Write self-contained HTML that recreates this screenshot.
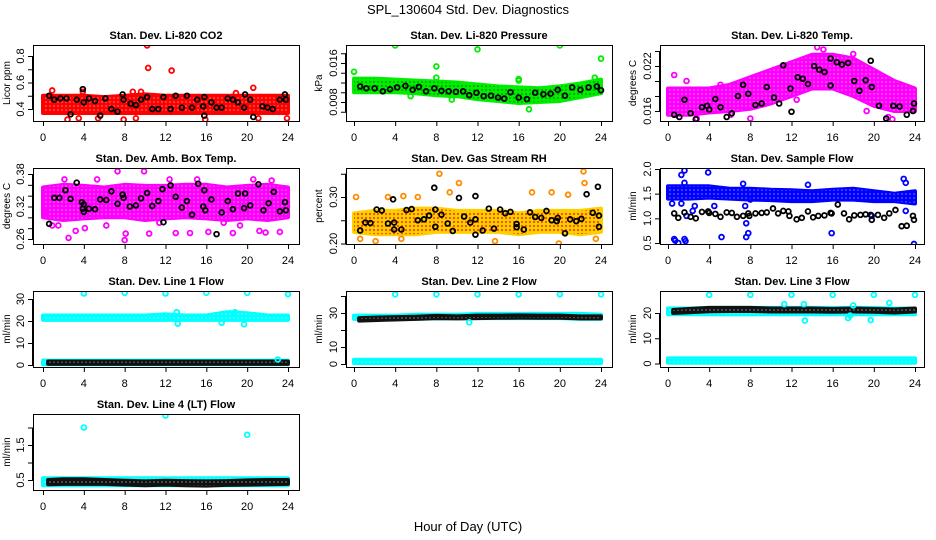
<!DOCTYPE html>
<html><head><meta charset="utf-8">
<style>
html,body{margin:0;padding:0;background:#fff;}
svg{display:block;font-family:"Liberation Sans",sans-serif;}
</style></head>
<body>
<svg id="chart" width="936" height="540" viewBox="0 0 936 540" xmlns="http://www.w3.org/2000/svg">
<defs>
<pattern id="texW" width="4" height="4" patternUnits="userSpaceOnUse"><circle cx="2" cy="2" r="1" fill="#fff" fill-opacity="0.3"/></pattern>
<pattern id="texK" width="4" height="4" patternUnits="userSpaceOnUse"><circle cx="2" cy="2" r="1" fill="#000" fill-opacity="0.35"/></pattern>
<pattern id="texR" width="4" height="4" patternUnits="userSpaceOnUse"><circle cx="2" cy="2" r="1.1" fill="#ff2000" fill-opacity="0.8"/></pattern>
</defs>
<text x="468" y="14" text-anchor="middle" font-size="13">SPL_130604  Std. Dev. Diagnostics</text>
<text x="468" y="531" text-anchor="middle" font-size="13">Hour of Day (UTC)</text>
<g id="panels"></g>
</svg>
<script>
// ---------- data ----------
const hours = [0,2,4,6,8,10,12,14,16,18,20,22,24];
const xTicks = [0,4,8,12,16,20,24];

// P1 CO2
const co2Lo = [0.37,0.37,0.37,0.37,0.37,0.37,0.37,0.37,0.37,0.37,0.37,0.37,0.37];
const co2Hi = [0.50,0.50,0.50,0.49,0.50,0.51,0.50,0.50,0.50,0.50,0.50,0.50,0.50];
const co2OutHour = [10.2,10.3,12.6,20.6,0.9,3.9,8.8,9.6,18.9,2.4,3.5,7.9,15.9,23.9,21.1,5.4,9.1];
const co2OutVal = [0.88,0.71,0.69,0.56,0.54,0.53,0.53,0.53,0.52,0.32,0.33,0.32,0.32,0.33,0.33,0.33,0.33];
const co2BlkHour = [0.6,1.1,1.7,2.3,2.7,3.3,3.9,4.0,4.5,5.1,5.6,6.1,6.7,7.3,7.9,7.8,8.6,9.1,9.6,10.2,10.7,11.3,11.8,12.5,13.0,13.6,14.1,14.6,15.1,15.7,15.8,15.8,16.5,17.0,17.5,18.1,18.6,19.1,19.7,19.8,20.3,20.6,21.5,22.0,22.5,23.2,23.7,23.8];
const co2BlkVal = [0.50,0.47,0.48,0.48,0.36,0.47,0.55,0.45,0.48,0.46,0.35,0.48,0.40,0.38,0.47,0.51,0.44,0.43,0.47,0.49,0.40,0.40,0.49,0.40,0.50,0.41,0.50,0.41,0.47,0.42,0.49,0.35,0.45,0.41,0.41,0.48,0.47,0.45,0.41,0.51,0.47,0.34,0.42,0.41,0.40,0.47,0.51,0.47];

// P2 Pressure
const prsLo = [0.0100,0.0100,0.0100,0.0098,0.0094,0.0092,0.0086,0.0082,0.0078,0.0080,0.0082,0.0090,0.0098];
const prsHi = [0.0128,0.0128,0.0126,0.0124,0.0122,0.0120,0.0116,0.0112,0.0110,0.0108,0.0112,0.0118,0.0126];
const prsOutHour = [0,4,8,12,20,24,8,16,16,17,23.4,5.5,9.5];
const prsOutVal = [0.0142,0.0196,0.0153,0.0188,0.0196,0.0169,0.0130,0.0127,0.0124,0.0065,0.0130,0.0092,0.0085];
const prsBlkHour = [0.6,1.2,2,2.8,3.5,4.2,5,5.7,6.3,7,7.8,8.5,9.2,9.9,10.6,11.2,11.9,12.6,13.3,14,14.6,15.2,16,16.8,17.6,18.4,19.1,19.8,20.5,21.2,22,22.8,23.6,24];
const prsBlkVal = [0.0112,0.0108,0.0108,0.0102,0.0106,0.0110,0.0113,0.0105,0.0111,0.0102,0.0108,0.0103,0.0102,0.0101,0.0102,0.0094,0.0099,0.0092,0.0093,0.0089,0.0087,0.0100,0.0089,0.0086,0.0099,0.0096,0.0097,0.0105,0.0093,0.0110,0.0105,0.0110,0.0112,0.0104];

// P3 Li-820 Temp
const tmpLo = [0.0155,0.0155,0.0158,0.0160,0.0163,0.0170,0.0180,0.0190,0.0190,0.0180,0.0167,0.0160,0.0160];
const tmpHi = [0.0190,0.0190,0.0190,0.0195,0.0205,0.0215,0.0225,0.0235,0.0235,0.0230,0.0215,0.0200,0.0190];
const tmpOutHour = [0.6,14.5,15.1,18,21.4,21.8,2.8,8,19.3,12.5,6.1,1.8,5.1];
const tmpOutVal = [0.0208,0.0245,0.0242,0.0236,0.0152,0.0149,0.0150,0.0150,0.0160,0.0175,0.0155,0.0200,0.0195];
const tmpBlkHour = [0.6,1.1,1.6,2.2,2.7,3.3,3.8,4,4.6,5.1,5.7,6.2,6.8,7.3,7.8,8.5,9.1,9.6,10.3,10.8,11.2,11.9,12,12.6,13.1,13.6,14.2,14.7,15.2,15.8,15.8,16.4,16.9,17.5,18.1,18.6,19.2,19.7,19.8,20.5,21.2,21.9,22.5,23.2,23.8,23.9];
const tmpBlkVal = [0.0155,0.0152,0.0175,0.0157,0.0149,0.0165,0.0167,0.0162,0.0176,0.0165,0.0152,0.0157,0.0180,0.0195,0.0183,0.0168,0.0170,0.0192,0.0178,0.0170,0.0221,0.0190,0.0159,0.0205,0.0203,0.0196,0.0220,0.0215,0.0212,0.0230,0.0194,0.0225,0.0222,0.0224,0.0200,0.0187,0.0201,0.0227,0.0192,0.0167,0.0150,0.0167,0.0166,0.0155,0.0160,0.0170];

// P4 Amb Box Temp
const ambLo = [0.300,0.295,0.298,0.300,0.300,0.295,0.298,0.300,0.298,0.295,0.298,0.295,0.300];
const ambHi = [0.355,0.360,0.358,0.355,0.360,0.358,0.358,0.360,0.360,0.355,0.358,0.360,0.355];
const ambOutHour = [2.5,7.3,8,9.9,0.9,3.2,8.1,11.4,13,14.4,16.2,18.6,21.2,21.8,23.2,6.2,10.4,5.3,12.4,15.1,20.6,22.4,2.1,1.5,4.1,19.3,17.7,0.2,23.9];
const ambOutVal = [0.262,0.385,0.258,0.385,0.285,0.275,0.270,0.290,0.271,0.271,0.273,0.271,0.275,0.272,0.273,0.285,0.270,0.370,0.370,0.370,0.370,0.368,0.370,0.285,0.280,0.285,0.290,0.310,0.320];
const ambBlkHour = [0.6,1.1,1.6,2.2,2.7,3.3,3.8,4,3.9,4,4.5,5.1,5.6,6.2,6.7,7.3,7.8,7.9,8.5,9.1,9.6,10.2,10.7,11.3,11.7,11.8,12.5,13,13.6,14.1,14.6,15.2,15.7,15.8,15.9,16.5,17,17.5,18.1,18.6,19.1,19.7,19.8,20.3,21.1,21.6,22.1,22.6,23.2,23.7,23.8];
const ambBlkVal = [0.288,0.336,0.336,0.350,0.334,0.364,0.328,0.324,0.316,0.310,0.316,0.315,0.333,0.332,0.348,0.325,0.342,0.336,0.320,0.322,0.335,0.345,0.321,0.330,0.352,0.291,0.359,0.338,0.318,0.330,0.305,0.362,0.320,0.350,0.313,0.333,0.269,0.309,0.330,0.315,0.344,0.317,0.344,0.322,0.361,0.313,0.326,0.347,0.311,0.328,0.313];

// P5 Gas Stream RH
const rhLo = [0.225,0.220,0.220,0.220,0.225,0.225,0.225,0.225,0.220,0.225,0.225,0.220,0.225];
const rhHi = [0.265,0.270,0.270,0.275,0.275,0.270,0.270,0.270,0.265,0.270,0.270,0.270,0.275];
const rhOutHour = [0.2,8.3,10.2,22.3,22.4,19.2,0.6,2.1,4.6,13.7,19.9,17.3,3.3,6.2,23.5,9.3,20.8,4.8];
const rhOutVal = [0.300,0.350,0.330,0.355,0.330,0.310,0.210,0.205,0.210,0.205,0.200,0.310,0.300,0.300,0.210,0.310,0.305,0.302];
const rhBlkHour = [0.6,1.1,1.6,2.2,2.7,3.3,3.8,3.9,3.9,4.6,5.1,5.6,6.2,6.8,7.3,7.8,7.9,7.9,8.5,9.1,9.6,10.2,10.7,11.3,11.8,11.8,11.8,12.5,13.1,13.6,14.2,14.7,15.2,15.8,15.8,16.5,17.1,17.6,18.2,18.7,19.2,19.7,19.8,20.5,21.0,21.6,22.1,22.6,23.2,23.7,23.8,23.8];
const rhBlkVal = [0.228,0.245,0.244,0.273,0.271,0.243,0.295,0.245,0.230,0.230,0.272,0.274,0.250,0.252,0.260,0.320,0.273,0.236,0.262,0.243,0.227,0.298,0.258,0.245,0.302,0.252,0.219,0.228,0.275,0.232,0.273,0.265,0.268,0.242,0.235,0.230,0.267,0.257,0.255,0.270,0.250,0.248,0.255,0.222,0.252,0.248,0.253,0.306,0.266,0.322,0.260,0.236];

// P6 Sample Flow
const sfLo = [1.40,1.40,1.42,1.40,1.38,1.37,1.35,1.35,1.38,1.38,1.35,1.35,1.30];
const sfHi = [1.65,1.65,1.65,1.60,1.60,1.58,1.57,1.55,1.58,1.60,1.55,1.50,1.55];
const sfOutHour = [0.6,0.7,1,1.6,1.7,1.3,1.6,3.9,5.2,7.6,7.8,7.6,15.9,23.9,22.9,23.1,23.1,1.8,2.4,2.6,7.5,19.8,23.5,0.4,1.3,1.6,4.5,13.6,8.0,7.3];
const sfOutVal = [0.58,0.55,0.50,0.58,0.54,1.88,1.97,1.93,0.62,0.62,0.70,0.90,0.70,0.48,1.80,1.72,1.15,1.05,1.15,1.25,1.25,1.05,1.40,1.30,1.30,1.72,1.25,1.68,1.38,1.70];
const sfBlkHour = [0.6,1.0,1.6,2.2,2.7,3.3,3.9,4.0,4.6,5.1,5.7,6.2,6.7,7.3,7.8,7.9,8.5,9.1,9.6,10.2,10.7,11.2,11.7,11.8,12.5,13.0,13.6,14.1,14.6,15.2,15.8,15.9,16.5,17.1,17.6,18.1,18.7,19.2,19.7,19.8,20.4,21.0,21.5,22.1,22.7,23.2,23.8,23.9];
const sfBlkVal = [1.10,1.01,1.12,1.03,1.00,1.13,1.14,1.11,1.09,1.03,1.12,1.11,1.03,1.05,1.10,1.05,1.10,1.11,1.12,1.20,1.10,1.15,1.14,1.05,0.98,1.01,1.14,1.02,1.05,1.06,1.11,1.10,1.28,1.10,0.98,1.06,1.07,1.08,1.07,0.97,1.07,1.01,1.10,1.17,0.84,0.85,1.05,0.97];

// P7 Line 1 Flow
const l1HiLo = [20.5,20.5,20.5,20.5,20.5,20.5,20.5,20.5,20.5,20.5,20.5,20.5,20.5];
const l1HiHi = [22.5,22.5,22.5,22.5,22.5,22.5,23.0,22.5,22.5,24.0,23.5,22.5,22.5];
const l1LowLo = [0.3,0.3,0.3,0.3,0.3,0.3,0.3,0.3,0.3,0.3,0.3,0.3,0.3];
const l1LowHi = [2.0,2.0,2.0,2.0,2.0,2.0,2.0,2.0,2.0,2.0,2.0,2.0,2.0];
const l1BlkHour = [0.5,2,4,6,8,10,12,14,16,18,20,22,24];
const l1BlkLo = [0.5,0.5,0.5,0.5,0.5,0.5,0.5,0.5,0.5,0.5,0.5,0.5,0.5];
const l1BlkHi = [1.6,1.6,1.6,1.6,1.6,1.6,1.6,1.6,1.6,1.6,1.6,1.6,1.6];
const l1OutHour = [4,8,12,16,20,24,13.2,17.5,19.7,13.1,18.8,18.3,23];
const l1OutVal = [32.5,32.8,32.5,32.8,32.8,32.2,18.8,19.2,18.5,24,24,23.5,2.5];

// P8 Line 2 Flow
const l2HiLo = [26.5,26.5,26.5,26.5,26.8,26.8,27.0,27.0,27.0,27.0,27.0,26.5,26.5];
const l2HiHi = [28.5,28.5,28.5,29.0,29.0,29.0,29.5,29.5,29.5,29.5,29.5,29.5,29.0];
const l2LowLo = [0.5,0.5,0.5,0.5,0.5,0.5,0.5,0.5,0.5,0.5,0.5,0.5,0.5];
const l2LowHi = [2.5,2.5,2.5,2.5,2.5,2.5,2.5,2.5,2.5,2.5,2.5,2.5,2.5];
const l2BlkHour = [0.5,2,4,6,8,10,12,14,16,18,20,22,24];
const l2BlkLo = [25.5,25.8,26.2,26.5,27.0,26.8,27.0,27.2,27.3,27.2,27.2,26.8,26.8];
const l2BlkHi = [27.0,27.3,27.6,27.8,28.3,28.0,28.5,28.5,28.6,28.5,28.5,28.0,28.0];
const l2OutHour = [4,8,12,16,20,24,11.2];
const l2OutVal = [41,41,41,41,41,41,24.5];

// P9 Line 3 Flow
const l3HiLo = [19.5,19.5,19.5,19.5,19.5,19.5,19.5,19.5,19.5,19.5,19.5,19.5,19.5];
const l3HiHi = [21.8,21.8,22.0,22.0,22.0,22.0,22.0,22.0,22.0,22.0,22.0,21.8,21.8];
const l3LowLo = [0.3,0.3,0.3,0.3,0.3,0.3,0.3,0.3,0.3,0.3,0.3,0.3,0.3];
const l3LowHi = [2.0,2.0,2.0,2.0,2.0,2.0,2.0,2.0,2.0,2.0,2.0,2.0,2.0];
const l3BlkHour = [0.5,2,4,6,8,10,12,14,16,18,20,22,24];
const l3BlkLo = [20.0,20.3,20.7,20.8,20.8,20.6,20.6,20.6,20.5,20.6,20.5,20.2,20.6];
const l3BlkHi = [21.2,21.6,22.0,22.0,22.0,21.8,21.8,21.8,21.6,21.8,21.6,21.4,21.8];
const l3OutHour = [4,8,12,16,20,24,13.2,13.3,17.5,17.7,18,19.7,21.5,11.3];
const l3OutVal = [27.2,27.2,27.2,27.2,27.2,27.2,23.5,17,18,19,23,17.2,24,23.5];

// P10 Line 4 (LT) Flow
const l4Lo = [0.35,0.35,0.35,0.35,0.35,0.35,0.35,0.35,0.35,0.35,0.35,0.35,0.35];
const l4Hi = [0.55,0.55,0.55,0.55,0.55,0.55,0.55,0.55,0.55,0.55,0.55,0.55,0.55];
const l4BlkHour = [0.5,2,4,6,8,10,12,14,16,18,20,22,24];
const l4BlkLo = [0.38,0.39,0.39,0.39,0.37,0.35,0.37,0.35,0.34,0.36,0.37,0.38,0.39];
const l4BlkHi = [0.50,0.52,0.52,0.50,0.48,0.46,0.48,0.47,0.46,0.47,0.49,0.50,0.50];
const l4OutHour = [4,12,20];
const l4OutVal = [2.0,2.34,1.79];

// ---------- layout ----------
const NS = "http://www.w3.org/2000/svg";
const cols = [{bl:33,br:299,x0:43,x24:288,yl:10},{bl:346,br:612,x0:354,x24:601,yl:322},{bl:660,br:924,x0:668,x24:915,yl:636}];
const rowTop = [45,168,291,414];
const BOXH = 76;

const panels = [
 {name:"co2", title:"Stan. Dev. Li-820 CO2", yl:"Licor ppm", c:0, r:0, ref:[0.4,109,0.8,56], ticks:[0.4,0.5,0.6,0.7,0.8], labs:[0.4,0.6,0.8], dec:1,
  bands:[{x:hours,lo:co2Lo,hi:co2Hi,col:"#ff0000",tex:"texW"}], out:{x:co2OutHour,y:co2OutVal,col:"#ff0000"}, blk:{x:co2BlkHour,y:co2BlkVal}},
 {name:"pressure", title:"Stan. Dev. Li-820 Pressure", yl:"kPa", c:1, r:0, ref:[0.008,102,0.016,63], ticks:[0.006,0.008,0.010,0.012,0.014,0.016,0.018], labs:[0.008,0.016], dec:3,
  bands:[{x:hours,lo:prsLo,hi:prsHi,col:"#00ee00",tex:"texK"}], out:{x:prsOutHour,y:prsOutVal,col:"#00ee00"}, blk:{x:prsBlkHour,y:prsBlkVal}},
 {name:"li820-temp", title:"Stan. Dev. Li-820 Temp.", yl:"degrees C", c:2, r:0, ref:[0.016,111,0.022,66], ticks:[0.016,0.018,0.020,0.022,0.024], labs:[0.016,0.022], dec:3,
  bands:[{x:hours,lo:tmpLo,hi:tmpHi,col:"#ff00ff",tex:"texW"}], out:{x:tmpOutHour,y:tmpOutVal,col:"#ff00ff"}, blk:{x:tmpBlkHour,y:tmpBlkVal}},
 {name:"amb-box-temp", title:"Stan. Dev. Amb. Box Temp.", yl:"degrees C", c:0, r:1, ref:[0.38,174,0.26,239], ticks:[0.26,0.28,0.30,0.32,0.34,0.36,0.38], labs:[0.26,0.32,0.38], dec:2,
  bands:[{x:hours,lo:ambLo,hi:ambHi,col:"#ff00ff",tex:"texW"}], out:{x:ambOutHour,y:ambOutVal,col:"#ff00ff"}, blk:{x:ambBlkHour,y:ambBlkVal}},
 {name:"gas-stream-rh", title:"Stan. Dev. Gas Stream RH", yl:"percent", c:1, r:1, ref:[0.30,197,0.20,243.5], ticks:[0.20,0.25,0.30,0.35], labs:[0.20,0.30], dec:2,
  bands:[{x:hours,lo:rhLo,hi:rhHi,col:"#ffd000",tex:"texR"}], out:{x:rhOutHour,y:rhOutVal,col:"#ff8c00"}, blk:{x:rhBlkHour,y:rhBlkVal}},
 {name:"sample-flow", title:"Stan. Dev. Sample Flow", yl:"ml/min", c:2, r:1, ref:[2.0,169,0.5,243], ticks:[0.5,1.0,1.5,2.0], labs:[0.5,1.0,1.5,2.0], dec:1,
  bands:[{x:hours,lo:sfLo,hi:sfHi,col:"#0000ff",tex:"texW"}], out:{x:sfOutHour,y:sfOutVal,col:"#0000ff"}, blk:{x:sfBlkHour,y:sfBlkVal}},
 {name:"line1-flow", title:"Stan. Dev. Line 1 Flow", yl:"ml/min", c:0, r:2, ref:[30,299,0,365], ticks:[0,10,20,30], labs:[0,10,20,30], dec:0,
  bands:[{x:hours,lo:l1HiLo,hi:l1HiHi,col:"#00ffff",tex:"texW"},{x:hours,lo:l1LowLo,hi:l1LowHi,col:"#00ffff",tex:"texW"},{x:l1BlkHour,lo:l1BlkLo,hi:l1BlkHi,col:"#111",tex:"texW"}], out:{x:l1OutHour,y:l1OutVal,col:"#00ffff"}, blk:null},
 {name:"line2-flow", title:"Stan. Dev. Line 2 Flow", yl:"ml/min", c:1, r:2, ref:[30,313,0,364], ticks:[0,10,20,30,40], labs:[0,10,30], dec:0,
  bands:[{x:hours,lo:l2HiLo,hi:l2HiHi,col:"#00ffff",tex:"texW"},{x:hours,lo:l2LowLo,hi:l2LowHi,col:"#00ffff",tex:"texW"},{x:l2BlkHour,lo:l2BlkLo,hi:l2BlkHi,col:"#111",tex:"texW"}], out:{x:l2OutHour,y:l2OutVal,col:"#00ffff"}, blk:null},
 {name:"line3-flow", title:"Stan. Dev. Line 3 Flow", yl:"ml/min", c:2, r:2, ref:[20,313,0,363.5], ticks:[0,10,20], labs:[0,10,20], dec:0,
  bands:[{x:hours,lo:l3HiLo,hi:l3HiHi,col:"#00ffff",tex:"texW"},{x:hours,lo:l3LowLo,hi:l3LowHi,col:"#00ffff",tex:"texW"},{x:l3BlkHour,lo:l3BlkLo,hi:l3BlkHi,col:"#111",tex:"texW"}], out:{x:l3OutHour,y:l3OutVal,col:"#00ffff"}, blk:null},
 {name:"line4-flow", title:"Stan. Dev. Line 4 (LT) Flow", yl:"ml/min", c:0, r:3, ref:[0.5,480,1.5,445], ticks:[0.5,1.0,1.5,2.0], labs:[0.5,1.5], dec:1,
  bands:[{x:hours,lo:l4Lo,hi:l4Hi,col:"#00ffff",tex:"texW"},{x:l4BlkHour,lo:l4BlkLo,hi:l4BlkHi,col:"#111",tex:"texW"}], out:{x:l4OutHour,y:l4OutVal,col:"#00ffff"}, blk:null}
];

function mk(tag, attrs, parent){
  const e = document.createElementNS(NS, tag);
  for (const k in attrs) e.setAttribute(k, attrs[k]);
  if (parent) parent.appendChild(e);
  return e;
}

const root = document.getElementById('panels');
panels.forEach((p, i) => {
  const col = cols[p.c];
  const top = rowTop[p.r], bot = top + BOXH;
  const xS = h => col.x0 + (col.x24 - col.x0) * h / 24;
  const [v1, p1, v2, p2] = p.ref;
  const yS = v => p1 + (v - v1) * (p2 - p1) / (v2 - v1);

  const g = mk('g', {}, root);
  
  

  const clipId = 'clip' + i;
  const cp = mk('clipPath', {id: clipId}, g);
  mk('rect', {x: col.bl, y: top, width: col.br - col.bl, height: BOXH}, cp);

  const plot = mk('g', {'clip-path': 'url(#' + clipId + ')'}, g);
  
  

  p.bands.forEach((b, bi) => {
    let pts = [];
    for (let k = 0; k < b.x.length; k++) pts.push(xS(b.x[k]).toFixed(1) + ',' + yS(b.hi[k]).toFixed(1));
    for (let k = b.x.length - 1; k >= 0; k--) pts.push(xS(b.x[k]).toFixed(1) + ',' + yS(b.lo[k]).toFixed(1));
    const poly = mk('polygon', {points: pts.join(' '), fill: b.col, stroke: b.col, 'stroke-width': 4, 'stroke-linejoin': 'round'}, plot);
    
    
    const tex = mk('polygon', {points: pts.join(' '), fill: 'url(#' + b.tex + ')'}, plot);
    
    
  });

  if (p.out) {
    for (let k = 0; k < p.out.x.length; k++) {
      const c = mk('circle', {cx: xS(p.out.x[k]), cy: yS(p.out.y[k]), r: 2.4, fill: 'none', stroke: p.out.col, 'stroke-width': 1.8}, plot);
      
      
    }
  }
  if (p.blk) {
    for (let k = 0; k < p.blk.x.length; k++) {
      const c = mk('circle', {cx: xS(p.blk.x[k]), cy: yS(p.blk.y[k]), r: 2.4, fill: 'none', stroke: '#000', 'stroke-width': 1.8}, plot);
      
      
    }
  }

  const box = mk('rect', {x: col.bl + 0.5, y: top + 0.5, width: col.br - col.bl, height: BOXH, fill: 'none', stroke: '#000', 'stroke-width': 1}, g);
  
  

  const t = mk('text', {x: (col.bl + col.br) / 2, y: top - 6, 'text-anchor': 'middle', 'font-size': 11, 'font-weight': 'bold'}, g);
  t.textContent = p.title;
  
  

  const xa = mk('g', {}, g);
  
  
  mk('line', {x1: xS(0), x2: xS(24), y1: bot + 0.5, y2: bot + 0.5, stroke: '#000'}, xa);
  xTicks.forEach(h => {
    mk('line', {x1: xS(h) + 0.5, x2: xS(h) + 0.5, y1: bot, y2: bot + 5, stroke: '#000'}, xa);
    const tl = mk('text', {x: xS(h), y: bot + 20, 'text-anchor': 'middle', 'font-size': 11}, xa);
    tl.textContent = String(h);
    
    
  });

  const ya = mk('g', {}, g);
  
  
  const tv = p.ticks.filter(v => yS(v) >= top - 0.5 && yS(v) <= bot + 0.5);
  if (tv.length) mk('line', {x1: col.bl - 0.5, x2: col.bl - 0.5, y1: yS(tv[0]), y2: yS(tv[tv.length - 1]), stroke: '#000'}, ya);
  tv.forEach(v => {
    mk('line', {x1: col.bl - 5, x2: col.bl, y1: yS(v) + 0.5, y2: yS(v) + 0.5, stroke: '#000'}, ya);
  });
  p.labs.forEach(v => {
    const x = col.bl - 9, y = yS(v);
    const tl = mk('text', {x: x, y: y, 'text-anchor': 'middle', 'font-size': 11, transform: 'rotate(-90 ' + x + ' ' + y + ')'}, ya);
    tl.textContent = v.toFixed(p.dec);
    
    
  });
  const yl = mk('text', {x: col.yl, y: (top + bot) / 2, 'text-anchor': 'middle', 'font-size': 10, transform: 'rotate(-90 ' + col.yl + ' ' + ((top + bot) / 2) + ')'}, g);
  yl.textContent = p.yl;
  
  
});
</script>
</body></html>
